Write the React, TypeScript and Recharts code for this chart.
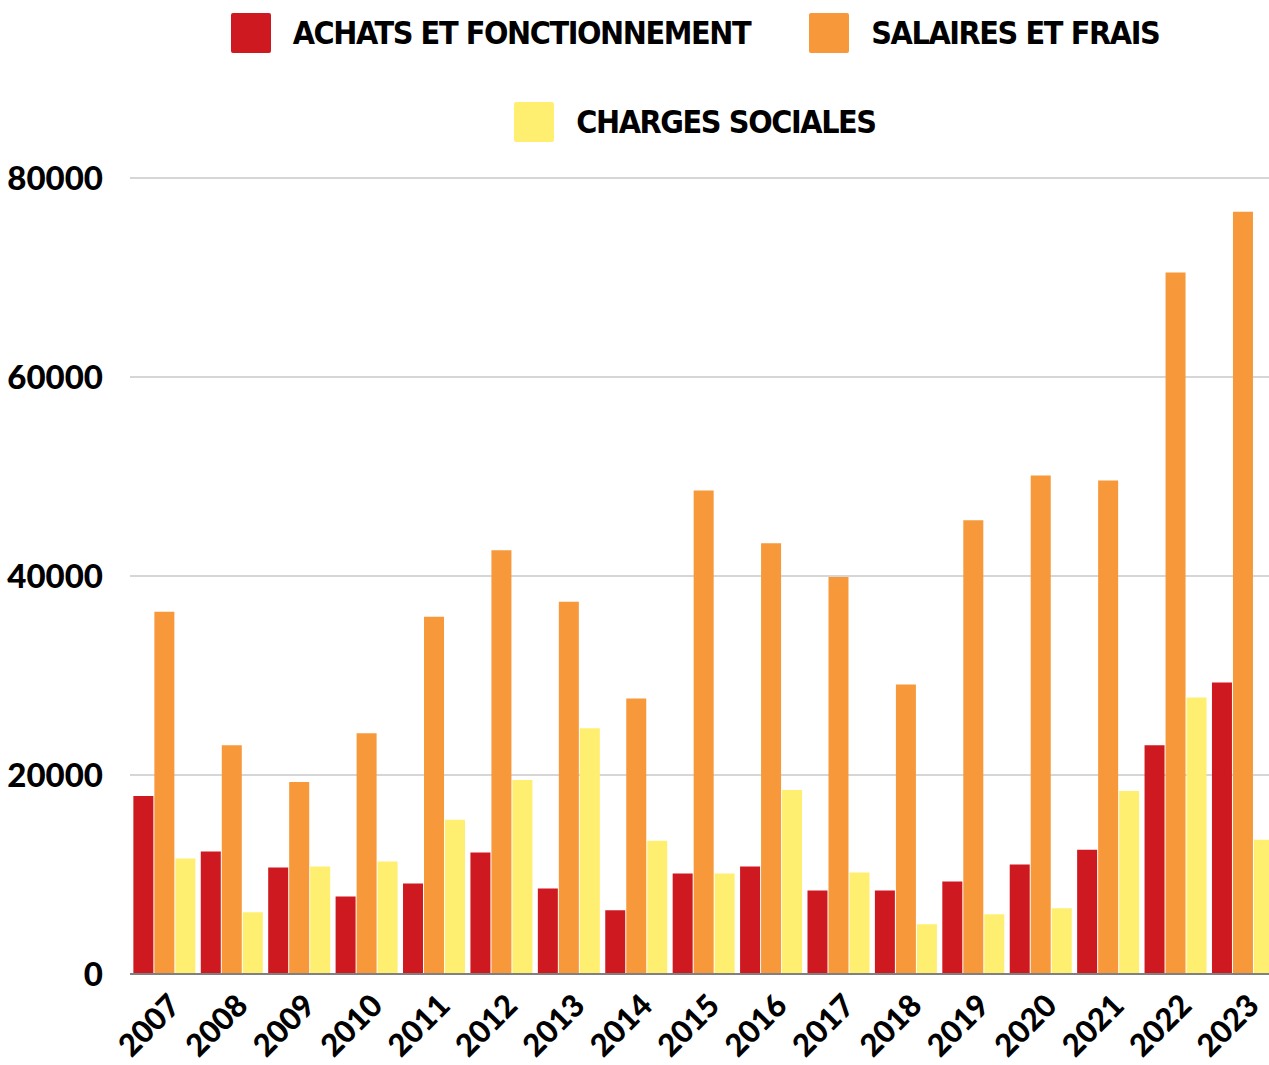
import { Bar, BarChart, CartesianGrid, Legend, XAxis, YAxis } from "recharts";

const years = [
  "2007", "2008", "2009", "2010", "2011", "2012", "2013", "2014", "2015",
  "2016", "2017", "2018", "2019", "2020", "2021", "2022", "2023"
];

const achats = [
  17900, 12300, 10700, 7800, 9100, 12200, 8600, 6400, 10100,
  10800, 8400, 8400, 9300, 11000, 12500, 23000, 29300
];

const salaires = [
  36400, 23000, 19300, 24200, 35900, 42600, 37400, 27700, 48600,
  43300, 39900, 29100, 45600, 50100, 49600, 70500, 76600
];

const charges = [
  11600, 6200, 10800, 11300, 15500, 19500, 24700, 13400, 10100,
  18500, 10200, 5000, 6000, 6600, 18400, 27800, 13500
];

const yTicks = [0, 20000, 40000, 60000, 80000];

const series = [
  { key: "achats", name: "ACHATS ET FONCTIONNEMENT", color: "#cf1921" },
  { key: "salaires", name: "SALAIRES ET FRAIS", color: "#f7983a" },
  { key: "charges", name: "CHARGES SOCIALES", color: "#ffef70" }
];

const data = years.map((year, i) => ({
  year,
  achats: achats[i],
  salaires: salaires[i],
  charges: charges[i]
}));

const tickFont = "Lato, 'DejaVu Sans', sans-serif";
const legendFont = "'DejaVu Sans Condensed', 'Liberation Sans Narrow', sans-serif";

const CHART_W = 1276;
const CHART_H = 1065;

// legend keeps the series order (recharts sorts the payload by name otherwise)
function LegendContent() {
  return (
    <div
      style={{
        width: CHART_W,
        height: 168,
        boxSizing: "border-box",
        paddingLeft: 114,
        paddingTop: 3,
        display: "flex",
        flexWrap: "wrap",
        justifyContent: "center",
        alignContent: "flex-start",
        rowGap: 49,
        columnGap: 59
      }}
    >
      {series.map((s) => (
        <div key={s.key} style={{ display: "flex", alignItems: "center", height: 40 }}>
          <div
            style={{
              width: 40,
              height: 40,
              borderRadius: 2,
              background: s.color,
              marginRight: 22
            }}
          />
          <span
            style={{
              fontFamily: legendFont,
              fontWeight: 700,
              fontSize: 32,
              color: "#000",
              letterSpacing: -1.4
            }}
          >
            {s.name}
          </span>
        </div>
      ))}
    </div>
  );
}

export default function App() {
  return (
    <div
      style={{
        position: "absolute",
        left: 0,
        top: 0,
        width: 1269,
        height: 1065,
        overflow: "hidden",
        background: "#fff"
      }}
    >
      <BarChart
        width={CHART_W}
        height={CHART_H}
        data={data}
        margin={{ top: 10, right: 0, left: 0, bottom: 0 }}
        barCategoryGap="5%"
        barGap={1}
      >
        <CartesianGrid vertical={false} stroke="#c8c8c8" strokeWidth={1.5} />
        <Legend
          verticalAlign="top"
          align="left"
          wrapperStyle={{ left: 0, top: 10 }}
          content={<LegendContent />}
        />
        <XAxis
          dataKey="year"
          height={91}
          interval={0}
          axisLine={{ stroke: "#808080", strokeWidth: 2 }}
          tickLine={false}
          tick={{ fill: "#000", fontSize: 31, fontWeight: 900, fontFamily: tickFont }}
          angle={-45}
          textAnchor="end"
          tickMargin={12}
          dx={3}
        />
        <YAxis
          width={130}
          domain={[0, 80000]}
          ticks={yTicks}
          axisLine={false}
          tickLine={false}
          tickSize={0}
          tickMargin={27}
          tick={{ fill: "#000", fontSize: 33, fontWeight: 900, fontFamily: tickFont }}
        />
        {series.map((s) => (
          <Bar
            key={s.key}
            dataKey={s.key}
            name={s.name}
            fill={s.color}
            isAnimationActive={false}
          />
        ))}
      </BarChart>
    </div>
  );
}
